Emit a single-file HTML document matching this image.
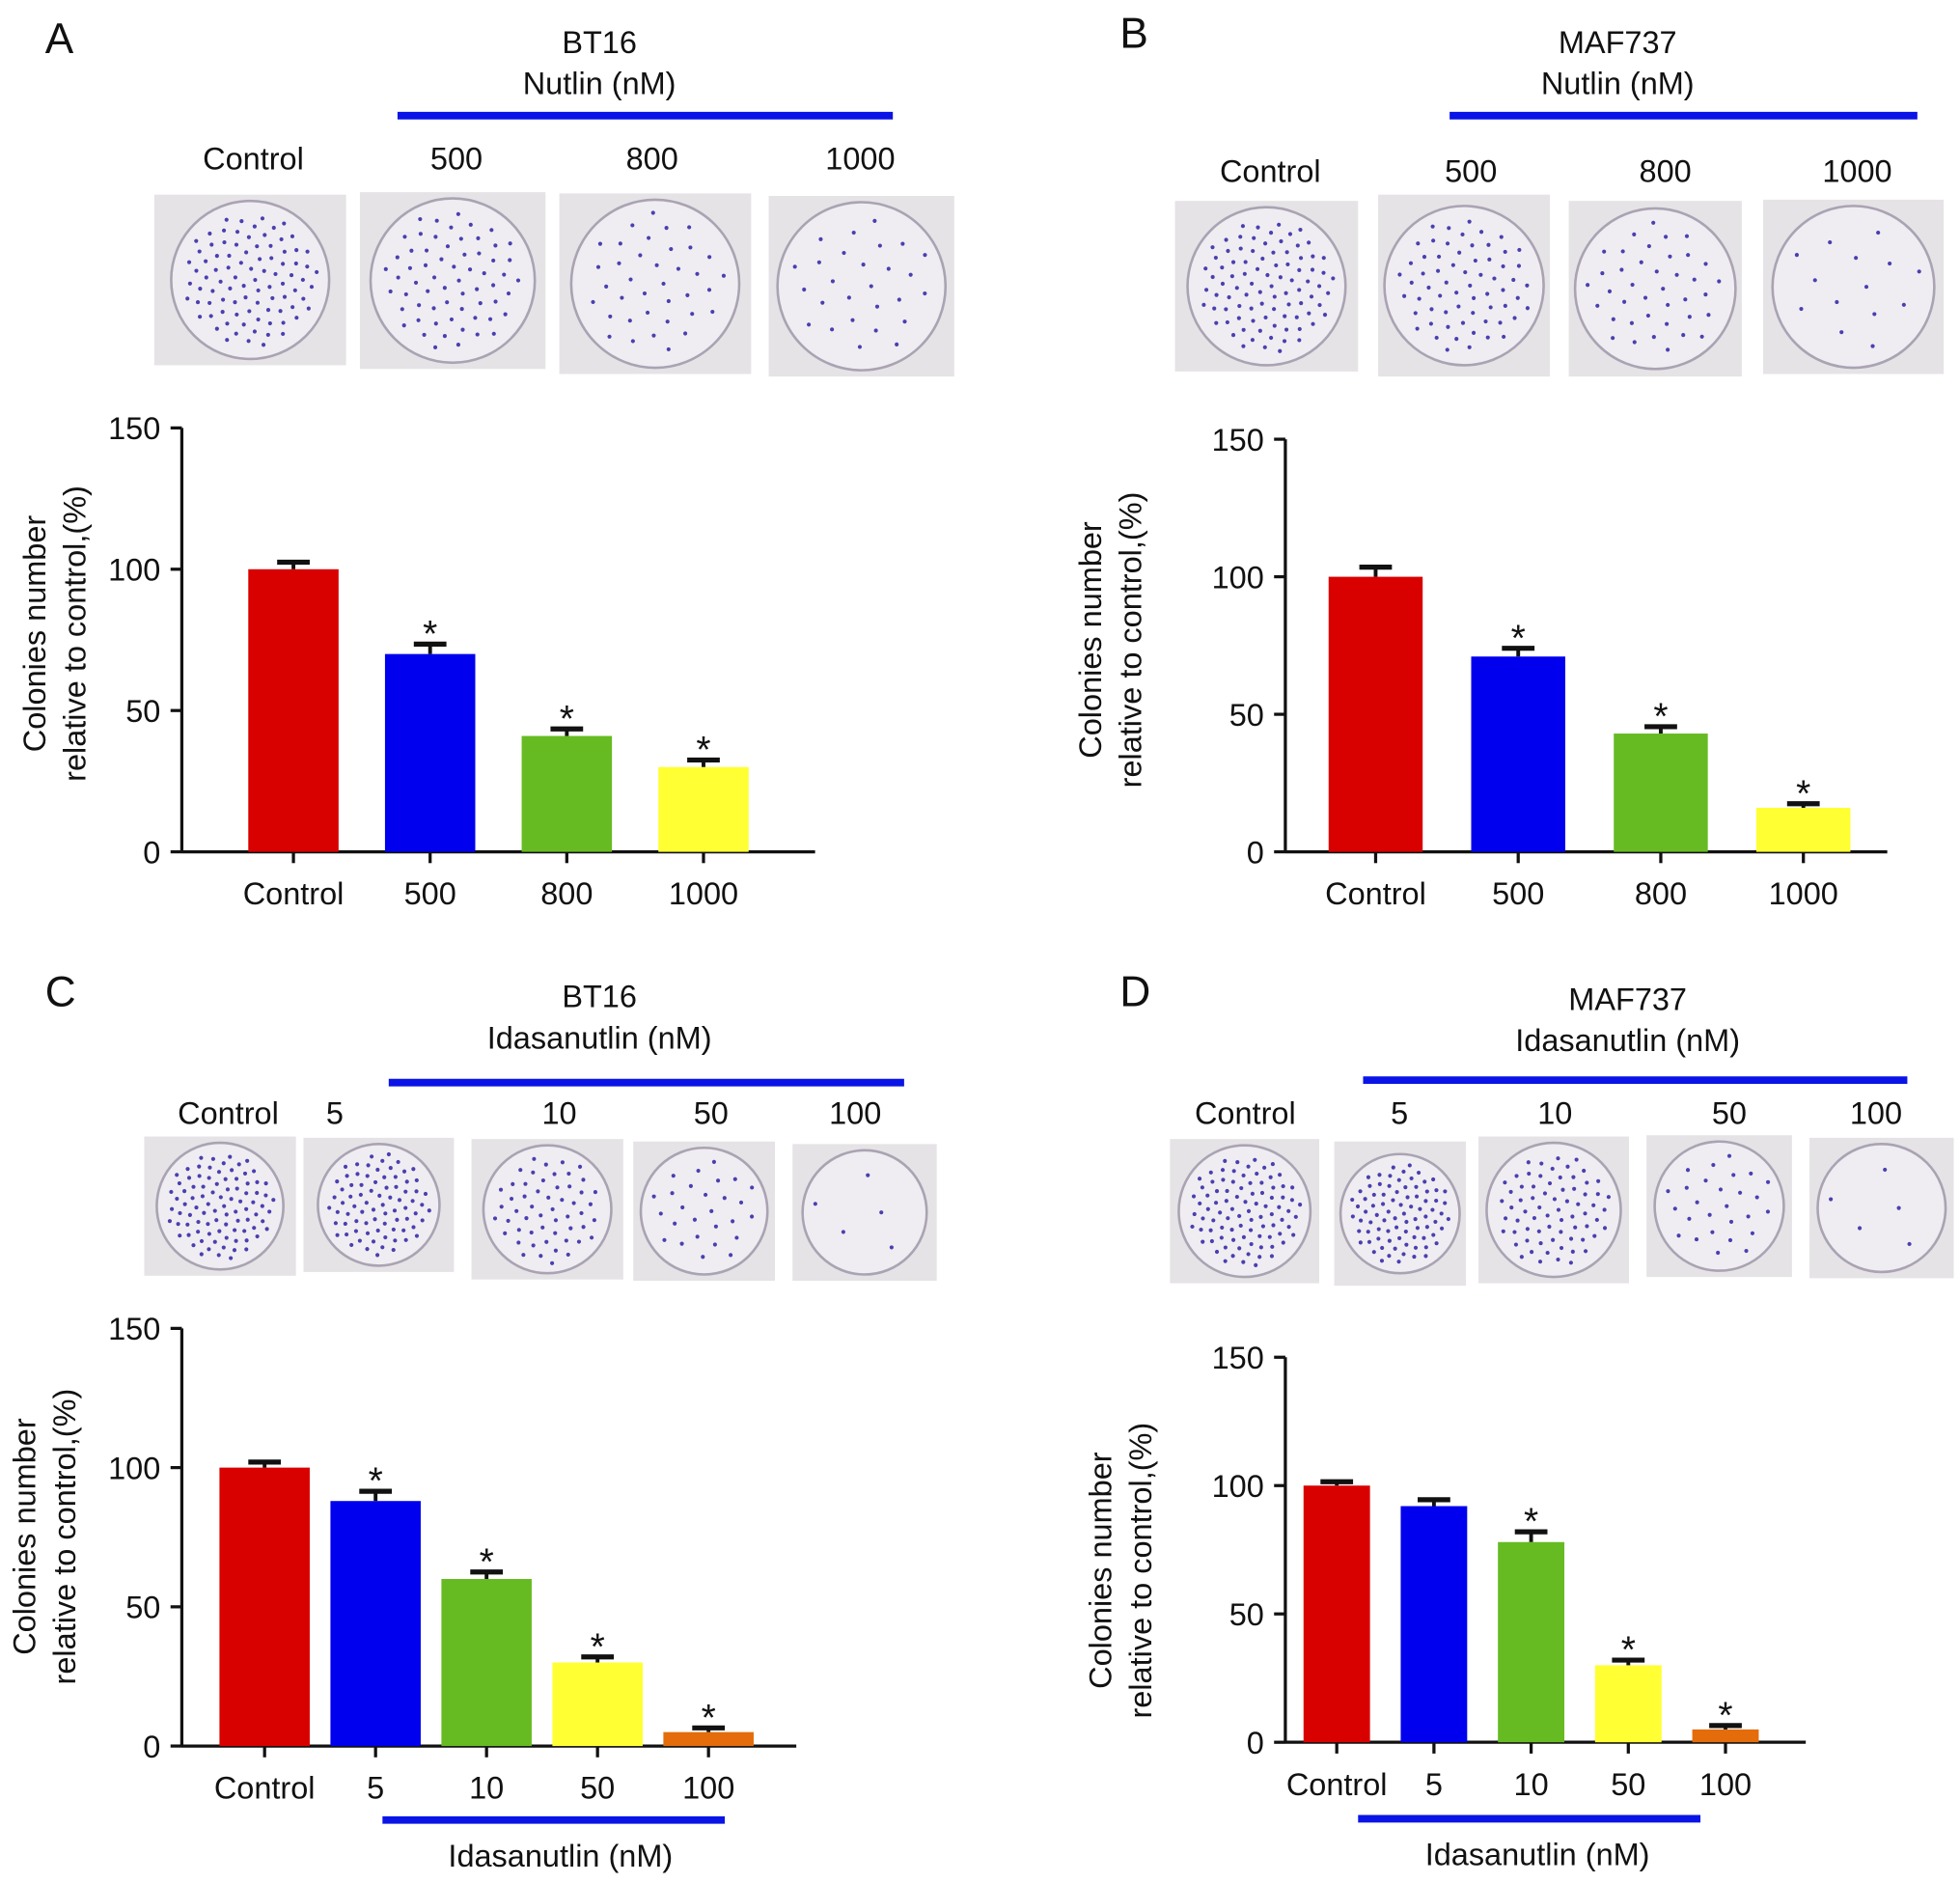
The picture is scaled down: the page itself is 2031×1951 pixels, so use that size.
<!DOCTYPE html>
<html><head><meta charset="utf-8">
<style>
html,body{margin:0;padding:0;background:#fff;}
svg{display:block;font-family:"Liberation Sans",Arial,sans-serif;}
</style></head>
<body>
<svg id="fig" width="2031" height="1951" viewBox="0 0 1563 1501" xmlns="http://www.w3.org/2000/svg"></svg>
<script>
// Panel A data
const catsA = ["Control","500","800","1000"];
const valsA = [100,70,41,30];
const errsA = [2.5,3.5,2.5,2.5];
const sigA = [false,true,true,true];
// Panel B data
const catsB = ["Control","500","800","1000"];
const valsB = [100,71,43,16];
const errsB = [3.5,3,2.5,1.5];
const sigB = [false,true,true,true];
// Panel C data
const catsC = ["Control","5","10","50","100"];
const valsC = [100,88,60,30,5];
const errsC = [2,3.5,2.5,2,1.5];
const sigC = [false,true,true,true,true];
// Panel D data
const catsD = ["Control","5","10","50","100"];
const valsD = [100,92,78,30,5];
const errsD = [1.5,2.5,4,2,1.5];
const sigD = [false,false,true,true,true];
const yTicks = [0,50,100,150];
const colors5 = ["#d90000","#0000ee","#66bb22","#ffff33","#e46c0a"];

const FS=25;
const NS="http://www.w3.org/2000/svg";
const svg=document.getElementById('fig');
function mk(tag,attrs,parent){const e=document.createElementNS(NS,tag);for(const k in attrs)e.setAttribute(k,attrs[k]);(parent||svg).appendChild(e);return e;}
function txt(x,y,s,size,anchor,parent){const t=mk('text',{x:x,y:y,'font-size':size,'text-anchor':anchor||'middle',fill:'#111'},parent);t.textContent=s;return t;}

function panel(cfg){
  const g=mk('g',{});
  
  
  const yS=v=>cfg.y0+(cfg.y150-cfg.y0)*v/150;
  const L=txt(cfg.letterX,cfg.letterY,cfg.id,34,'start',g);
  
  
  const h1=txt(cfg.titleX,cfg.titleY,cfg.cell,FS,'middle',g);
  
  
  const h2=txt(cfg.titleX,cfg.titleY+33,cfg.drug+' (nM)',FS,'middle',g);
  
  
  const bl=mk('line',{x1:cfg.lineX1,x2:cfg.lineX2,y1:cfg.lineY,y2:cfg.lineY,stroke:'#0a14e6','stroke-width':6},g);
  
  
  cfg.photos.forEach((p,i)=>{
    const lt=txt(p.lx,cfg.photoLabelY,cfg.cats[i],FS,'middle',g);
    
    
    const dg=mk('g',{},g);
    
    
    mk('rect',{x:p.x,y:p.y,width:p.w,height:p.h,fill:'#e6e3e6'},dg);
    const cx=p.x+p.w/2,cy=p.y+p.h/2,r=Math.min(p.w,p.h)/2-5;
    mk('circle',{cx:cx,cy:cy,r:r,fill:'#efedf1',stroke:'#a9a3b3','stroke-width':2},dg);
    const n=Math.round(cfg.vals[i]*0.9);
    for(let k=0;k<n;k++){
      const a=k*2.399,rr=r*0.85*Math.sqrt((k+0.5)/n);
      mk('circle',{cx:cx+rr*Math.cos(a),cy:cy+rr*Math.sin(a),r:1.6,fill:'#4a3fb0'},dg);
    }
  });
  const ax=mk('g',{},g);
  
  
  mk('line',{x1:cfg.axX,x2:cfg.axX,y1:yS(150),y2:yS(0)+1,stroke:'#111','stroke-width':2.5},ax);
  yTicks.forEach(t=>{
    mk('line',{x1:cfg.axX-9,x2:cfg.axX,y1:yS(t),y2:yS(t),stroke:'#111','stroke-width':2.5},ax);
    const tl=txt(cfg.axX-17,yS(t)+9,String(t),FS,'end',ax);
    
    
  });
  const xa=mk('g',{},g);
  
  
  mk('line',{x1:cfg.axX,x2:cfg.axX2,y1:yS(0),y2:yS(0),stroke:'#111','stroke-width':2.5},xa);
  const yt=mk('text',{transform:`translate(${cfg.ytX},${cfg.ytY}) rotate(-90)`,'font-size':FS,'text-anchor':'middle',fill:'#111'},g);
  
  
  const s1=mk('tspan',{x:0,y:0},yt);s1.textContent='Colonies number';
  const s2=mk('tspan',{x:0,y:32},yt);s2.textContent='relative to control,(%)';
  cfg.cats.forEach((c,i)=>{
    const cx=cfg.bx0+i*cfg.step;
    const bg=mk('g',{},g);
    
    
    const top=yS(cfg.vals[i]);
    mk('rect',{x:cx-cfg.bw/2,y:top,width:cfg.bw,height:yS(0)-top,fill:colors5[i]},bg);
    const et=yS(cfg.vals[i]+cfg.errs[i]);
    mk('line',{x1:cx,x2:cx,y1:top,y2:et,stroke:'#111','stroke-width':3},bg);
    mk('line',{x1:cx-13,x2:cx+13,y1:et,y2:et,stroke:'#111','stroke-width':4},bg);
    if(cfg.sig[i]){const st=txt(cx,et+2,'*',30,'middle',bg);}
    mk('line',{x1:cx,x2:cx,y1:yS(0),y2:yS(0)+9,stroke:'#111','stroke-width':2.5},xa);
    const xl=txt(cx,yS(0)+42,c,FS,'middle',xa);
    
    
  });
}

panel({id:'A',cell:'BT16',drug:'Nutlin',cats:catsA,vals:valsA,errs:errsA,sig:sigA,
 letterX:36,letterY:42,titleX:478,titleY:42,lineX1:317,lineX2:712,lineY:92,photoLabelY:135,
 photos:[{lx:202,x:123,y:155,w:153,h:136},{lx:364,x:287,y:153,w:148,h:141},{lx:520,x:446,y:154,w:153,h:144},{lx:686,x:613,y:156,w:148,h:144}],
 y0:679,y150:341,axX:145,axX2:650,ytX:36,ytY:505,bx0:234,step:109,bw:72});
panel({id:'B',cell:'MAF737',drug:'Nutlin',cats:catsB,vals:valsB,errs:errsB,sig:sigB,
 letterX:893,letterY:38,titleX:1290,titleY:42,lineX1:1156,lineX2:1529,lineY:92,photoLabelY:145,
 photos:[{lx:1013,x:937,y:160,w:146,h:136},{lx:1173,x:1099,y:155,w:137,h:145},{lx:1328,x:1251,y:160,w:138,h:140},{lx:1481,x:1406,y:159,w:144,h:139}],
 y0:679,y150:350,axX:1025,axX2:1505,ytX:878,ytY:510,bx0:1097,step:113.7,bw:75});
panel({id:'C',cell:'BT16',drug:'Idasanutlin',cats:catsC,vals:valsC,errs:errsC,sig:sigC,
 letterX:36,letterY:802,titleX:478,titleY:803,lineX1:310,lineX2:721,lineY:863,photoLabelY:896,
 photos:[{lx:182,x:115,y:906,w:121,h:111},{lx:267,x:242,y:907,w:120,h:107},{lx:446,x:376,y:908,w:121,h:112},{lx:567,x:505,y:910,w:113,h:111},{lx:682,x:632,y:912,w:115,h:109}],
 y0:1392,y150:1059,axX:145,axX2:635,ytX:28,ytY:1225,bx0:211,step:88.5,bw:72});
panel({id:'D',cell:'MAF737',drug:'Idasanutlin',cats:catsD,vals:valsD,errs:errsD,sig:sigD,
 letterX:893,letterY:802,titleX:1298,titleY:805,lineX1:1087,lineX2:1521,lineY:861,photoLabelY:896,
 photos:[{lx:993,x:933,y:908,w:119,h:115},{lx:1116,x:1064,y:910,w:105,h:115},{lx:1240,x:1179,y:906,w:120,h:117},{lx:1379,x:1313,y:905,w:116,h:113},{lx:1496,x:1443,y:907,w:115,h:112}],
 y0:1389,y150:1082,axX:1025,axX2:1440,ytX:886,ytY:1252,bx0:1066,step:77.5,bw:53});

(function(){
  const mkBot=(x1,x2,y,cx,label)=>{
    const l=mk('line',{x1:x1,x2:x2,y1:y,y2:y,stroke:'#0a14e6','stroke-width':6});
    
    
    const t=txt(cx,y+37,label,FS,'middle');
    
    
  };
  mkBot(305,578,1451,447,'Idasanutlin (nM)');
  mkBot(1083,1356,1450,1226,'Idasanutlin (nM)');
})();
</script>
</body></html>
